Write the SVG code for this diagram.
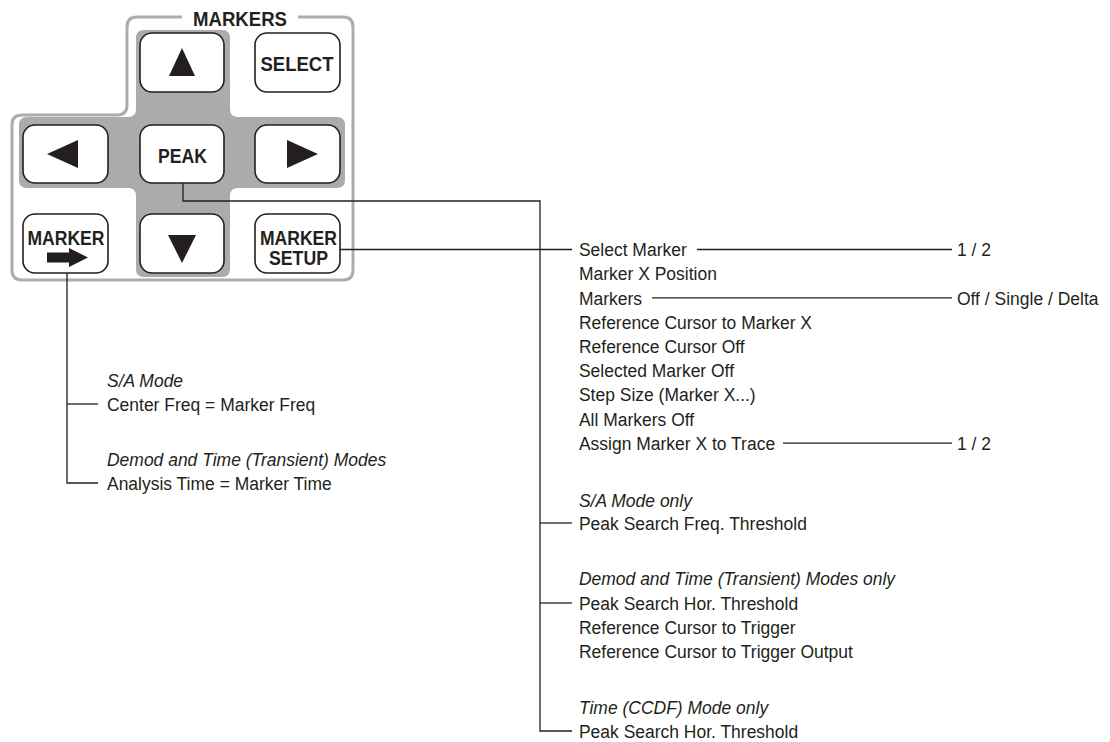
<svg xmlns="http://www.w3.org/2000/svg" width="1110" height="742" viewBox="0 0 1110 742">
<style>
.bg{fill:#fff}
.panel{fill:none;stroke:#acacac;stroke-width:3}
.cross{fill:#ababab}
.btn{fill:#fff;stroke:#231f20;stroke-width:1.6}
.ico{fill:#231f20}
.lbl{font-family:"Liberation Sans",Arial,Helvetica,sans-serif;font-weight:bold;fill:#231f20;text-anchor:middle;font-size:20px}
.t{font-family:"Liberation Sans",Arial,Helvetica,sans-serif;font-size:19px;fill:#231f20}
.i{font-style:italic}
.conn{stroke:#231f20;stroke-width:1.3;fill:none}
</style>
<rect class="bg" x="0" y="0" width="1110" height="742"/>

<g id="panel">
  <path class="panel" d="M182,17 L137,17 Q127,17 127,27 L127,105 Q127,115 117,115 L22,115 Q12,115 12,125 L12,270 Q12,280 22,280 L343,280 Q353,280 353,270 L353,27 Q353,17 343,17 L298,17"/>
  <text class="lbl" x="240" y="26" font-size="19" textLength="94" lengthAdjust="spacingAndGlyphs">MARKERS</text>
  <path class="cross" d="M144,30 L222,30 Q230,30 230,38 L230,109 Q230,117 238,117 L337,117 Q345,117 345,125 L345,180 Q345,188 337,188 L238,188 Q230,188 230,196 L230,269 Q230,277 222,277 L144,277 Q136,277 136,269 L136,196 Q136,188 128,188 L27,188 Q19,188 19,180 L19,125 Q19,117 27,117 L128,117 Q136,117 136,109 L136,38 Q136,30 144,30 Z"/>
</g>

<g id="btn-up">
  <rect class="btn" x="140" y="33" width="84" height="59" rx="12"/>
  <polygon class="ico" points="182,48 169,76 195,76"/>
</g>
<g id="btn-select">
  <rect class="btn" x="255" y="33" width="85" height="59" rx="12"/>
  <text class="lbl" x="297" y="71" textLength="73" lengthAdjust="spacingAndGlyphs">SELECT</text>
</g>
<g id="btn-left">
  <rect class="btn" x="23" y="125" width="85" height="58" rx="12"/>
  <polygon class="ico" points="47,154 78,140 78,168"/>
</g>
<g id="btn-peak">
  <rect class="btn" x="140" y="125" width="84" height="58" rx="12"/>
  <text class="lbl" x="182.5" y="163" textLength="49" lengthAdjust="spacingAndGlyphs">PEAK</text>
</g>
<g id="btn-right">
  <rect class="btn" x="255" y="125" width="85" height="58" rx="12"/>
  <polygon class="ico" points="318,154 287,140 287,168"/>
</g>
<g id="btn-marker-to">
  <rect class="btn" x="23" y="214" width="85" height="59" rx="12"/>
  <text class="lbl" x="66" y="245" textLength="77" lengthAdjust="spacingAndGlyphs">MARKER</text>
  <polygon class="ico" points="47,252.5 69,252.5 69,248 88,257.5 69,267 69,262.5 47,262.5"/>
</g>
<g id="btn-down">
  <rect class="btn" x="140" y="214" width="84" height="59" rx="12"/>
  <polygon class="ico" points="168,235 196,235 182,263"/>
</g>
<g id="btn-marker-setup">
  <rect class="btn" x="255" y="214" width="85" height="59" rx="12"/>
  <text class="lbl" x="298.5" y="245" textLength="77" lengthAdjust="spacingAndGlyphs">MARKER</text>
  <text class="lbl" x="298.5" y="265" textLength="59" lengthAdjust="spacingAndGlyphs">SETUP</text>
</g>

<g id="connectors">
  <polyline class="conn" points="183,183 183,201 540,201 540,731 572,731"/>
  <line class="conn" x1="340" y1="249.5" x2="572" y2="249.5"/>
  <line class="conn" x1="540" y1="523" x2="572" y2="523"/>
  <line class="conn" x1="540" y1="603" x2="572" y2="603"/>
  <polyline class="conn" points="67,273 67,483 98,483"/>
  <line class="conn" x1="67" y1="404" x2="98" y2="404"/>
  <line class="conn" x1="697" y1="249.5" x2="952" y2="249.5"/>
  <line class="conn" x1="652" y1="297.9" x2="952" y2="297.9"/>
  <line class="conn" x1="783" y1="443.1" x2="952" y2="443.1"/>
</g>

<g transform="scale(0.92,1)">
<g id="marker-to-menu">
  <text class="t i" x="116.3" y="386.6">S/A Mode</text>
  <text class="t" x="116.3" y="410.6">Center Freq = Marker Freq</text>
  <text class="t i" x="116.3" y="465.6">Demod and Time (Transient) Modes</text>
  <text class="t" x="116.3" y="489.6">Analysis Time = Marker Time</text>
</g>

<g id="setup-menu">
  <text class="t" x="629.3" y="256.3">Select Marker</text>
  <text class="t" x="629.3" y="280.5">Marker X Position</text>
  <text class="t" x="629.3" y="304.7">Markers</text>
  <text class="t" x="629.3" y="328.9">Reference Cursor to Marker X</text>
  <text class="t" x="629.3" y="353.1">Reference Cursor Off</text>
  <text class="t" x="629.3" y="377.3">Selected Marker Off</text>
  <text class="t" x="629.3" y="401.5">Step Size (Marker X...)</text>
  <text class="t" x="629.3" y="425.7">All Markers Off</text>
  <text class="t" x="629.3" y="449.9">Assign Marker X to Trace</text>
</g>

<g id="setup-values">
  <text class="t" x="1040.2" y="256.3">1 / 2</text>
  <text class="t" x="1040.2" y="304.7">Off / Single / Delta</text>
  <text class="t" x="1040.2" y="449.9">1 / 2</text>
</g>

<g id="peak-sa">
  <text class="t i" x="629.3" y="506.6">S/A Mode only</text>
  <text class="t" x="629.3" y="529.6">Peak Search Freq. Threshold</text>
</g>
<g id="peak-demod">
  <text class="t i" x="629.3" y="584.6">Demod and Time (Transient) Modes only</text>
  <text class="t" x="629.3" y="609.6">Peak Search Hor. Threshold</text>
  <text class="t" x="629.3" y="633.6">Reference Cursor to Trigger</text>
  <text class="t" x="629.3" y="657.6">Reference Cursor to Trigger Output</text>
</g>
<g id="peak-ccdf">
  <text class="t i" x="629.3" y="713.6">Time (CCDF) Mode only</text>
  <text class="t" x="629.3" y="737.6">Peak Search Hor. Threshold</text>
</g>
</g>
</svg>
